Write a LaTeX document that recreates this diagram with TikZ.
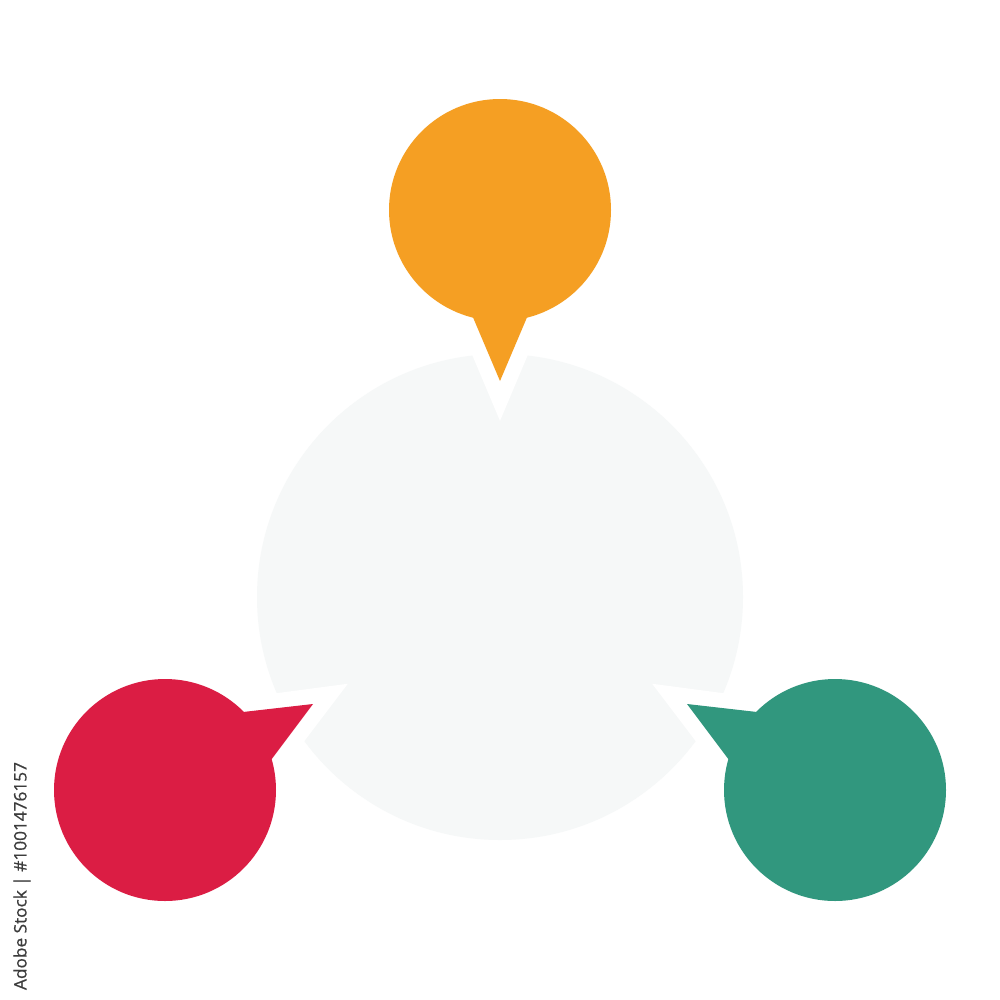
\documentclass[tikz,border=0pt]{standalone}
\usepackage{fontspec}
\newfontfamily\idfont[FakeBold=0.6]{Open Sans}
\definecolor{cgray}{HTML}{F6F8F8}
\definecolor{corange}{HTML}{F59F23}
\definecolor{cred}{HTML}{DB1D44}
\definecolor{cgreen}{HTML}{31977E}
\definecolor{ctext}{HTML}{3C3C3C}
\tikzset{
  gap/.style={draw=white, line width=3.1mm, line join=miter, fill=white},
}
\begin{document}
\begin{tikzpicture}[x=0.01cm,y=-0.01cm]
\useasboundingbox (0,0) rectangle (1000,1000);
\fill[white] (0,0) rectangle (1000,1000);
% central circle
\fill[cgray] (500,597) circle[radius=243];
% white gaps around bubbles
\path[gap] (500,210) circle[radius=111];
\path[gap] (473,317) -- (500,381) -- (527,317) -- cycle;
\path[gap] (165,790) circle[radius=111];
\path[gap] (245,713) -- (313,704) -- (272,758) -- cycle;
\path[gap] (835,790) circle[radius=111];
\path[gap] (755,713) -- (687,704) -- (728,758) -- cycle;
% bubbles
\fill[corange] (500,210) circle[radius=111];
\fill[corange] (472,315) -- (500,381) -- (528,315) -- cycle;
\fill[cred] (165,790) circle[radius=111];
\fill[cred] (243,712) -- (313,704) -- (271,760) -- cycle;
\fill[cgreen] (835,790) circle[radius=111];
\fill[cgreen] (757,712) -- (687,704) -- (729,760) -- cycle;
% id text
\node[rotate=90, text=ctext, inner sep=0pt, font=\idfont\fontsize{4.9pt}{5pt}\selectfont] (id) at (22,876) {Adobe Stock | \#1001476157};
\end{tikzpicture}
\end{document}
